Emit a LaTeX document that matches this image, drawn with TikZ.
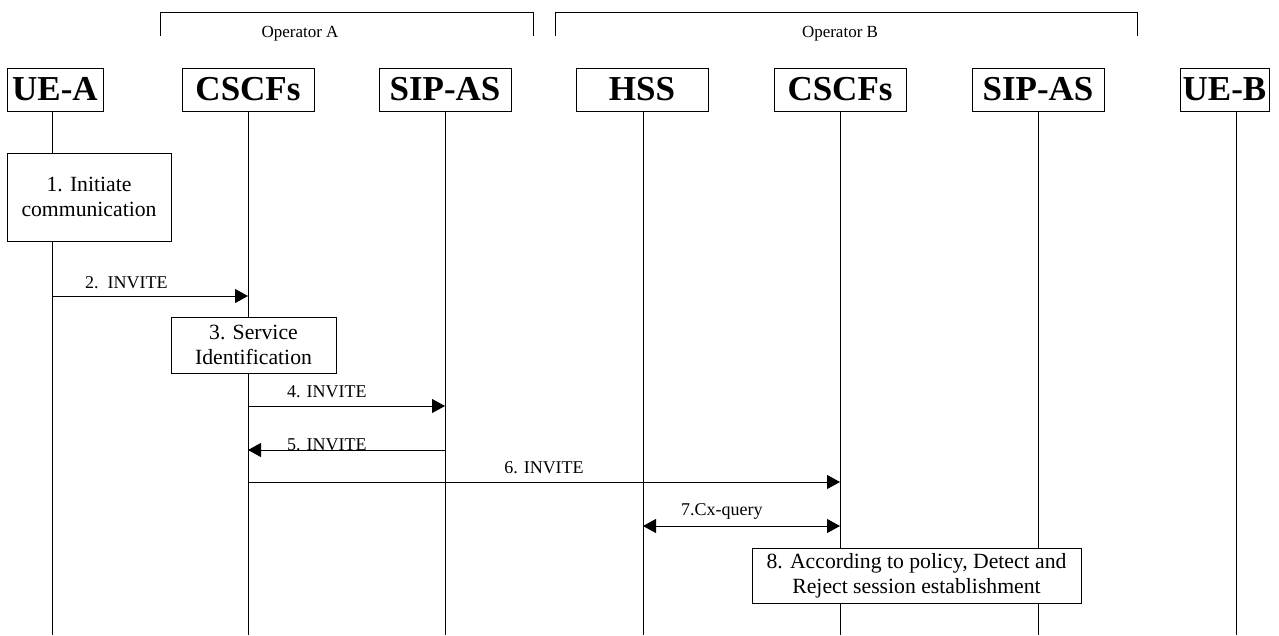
\documentclass[tikz,border=0pt]{standalone}
\usepackage{fontspec}
\setmainfont{Liberation Serif}
\usetikzlibrary{arrows.meta}

\tikzset{
  hdr/.style={draw, line width=1pt, font=\fontsize{35}{38}\selectfont\bfseries,
              minimum height=43pt, inner sep=0pt},
  stepbox/.style={draw, fill=white, line width=1pt, align=center, inner sep=0pt,
              font=\fontsize{21.7}{25}\selectfont},
  life/.style={line width=1pt},
  msg/.style={line width=1pt, -{Triangle[length=13pt,width=14pt]}},
  bimsg/.style={line width=1pt, {Triangle[length=13pt,width=14pt]}-{Triangle[length=13pt,width=14pt]}},
  msglbl/.style={font=\fontsize{18}{20}\selectfont, anchor=base, inner sep=0pt},
  opbracket/.style={line width=1pt},
  oplbl/.style={font=\fontsize{17}{19}\selectfont, inner sep=0pt},
}

\begin{document}
\begin{tikzpicture}[x=1pt, y=-1pt]
  \useasboundingbox (0,0) rectangle (1279,635);

  % operator brackets
  \coordinate (oAl) at (160,36);
  \coordinate (oAr) at (533,36);
  \coordinate (oBl) at (555,36);
  \coordinate (oBr) at (1137,36);
  \draw[opbracket] (oAl) -- ++(0,-24) -| (oAr);
  \draw[opbracket] (oBl) -- ++(0,-24) -| (oBr);
  \node[oplbl] (opA) at (300,34) {Operator A};
  \node[oplbl] (opB) at (840,34) {Operator B};

  % entity headers
  \node[hdr, minimum width=96pt]  (ueA)   at (55,89.5)   {UE-A};
  \node[hdr, minimum width=132pt] (cscfA) at (248,89.5)  {CSCFs};
  \node[hdr, minimum width=132pt] (asA)   at (445,89.5)  {SIP-AS};
  \node[hdr, minimum width=132pt] (hss)   at (642,89.5)  {HSS};
  \node[hdr, minimum width=132pt] (cscfB) at (840,89.5)  {CSCFs};
  \node[hdr, minimum width=132pt] (asB)   at (1038,89.5) {SIP-AS};
  \node[hdr, minimum width=89pt]  (ueB)   at (1224.5,89.5) {UE-B};

  % lifelines
  \foreach \n/\x in {lA/52, lC/248, lS/445, lH/643, lD/840, lT/1038, lB/1236} {
    \coordinate (\n) at (\x,111);
    \coordinate (\n-end) at (\x,635);
    \draw[life] (\n) -- (\n-end);
  }

  % step boxes
  \node[stepbox, minimum width=164pt, minimum height=88pt] (s1) at (89,197)
        {1. Initiate\\communication};
  \node[stepbox, minimum width=165pt, minimum height=56pt] (s3) at (253.5,345)
        {3. Service\\Identification};
  \node[stepbox, minimum width=329pt, minimum height=55pt] (s8) at (916.5,575.5)
        {8. According to policy, Detect and\\Reject session establishment};

  % message levels
  \coordinate (y2) at (0,296);
  \coordinate (y4) at (0,406);
  \coordinate (y5) at (0,450);
  \coordinate (y6) at (0,482);
  \coordinate (y7) at (0,526);

  % messages
  \draw[msg] (lA |- y2) -- (lC |- y2)
        node[msglbl, pos=0.38, yshift=8pt] {2.\ \ INVITE};
  \draw[msg] (lC |- y4) -- (lS |- y4)
        node[msglbl, pos=0.40, yshift=9pt] {4. INVITE};
  \draw[msg] (lS |- y5) -- (lC |- y5)
        node[msglbl, pos=0.60, yshift=0pt] {5. INVITE};
  \draw[msg] (lC |- y6) -- (lD |- y6)
        node[msglbl, pos=0.50, yshift=9pt] {6. INVITE};
  \draw[bimsg] (lH |- y7) -- (lD |- y7)
        node[msglbl, pos=0.40, yshift=11pt] {7.Cx-query};
\end{tikzpicture}
\end{document}
